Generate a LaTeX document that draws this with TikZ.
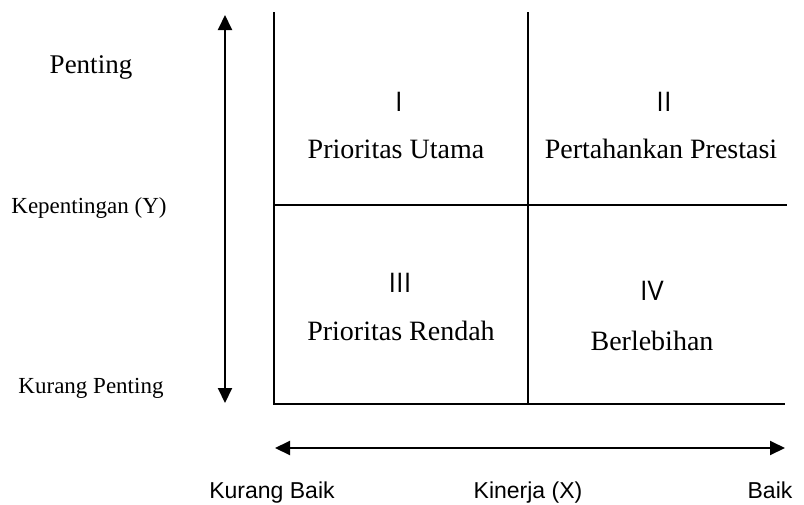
\documentclass[tikz,border=0pt]{standalone}
\usepackage{fontspec}
\setmainfont{Liberation Serif}
\newfontfamily\axisfont{Liberation Sans}
\newfontfamily\quadfont{Open Sans}
\usetikzlibrary{arrows.meta,positioning}
\tikzstyle{quadline} = [draw, line width=1.4pt]
\tikzstyle{axisline} = [draw, line width=2pt, {Triangle[length=15pt,width=14pt]}-{Triangle[length=15pt,width=14pt]}]
\tikzstyle{quadnum}  = [font=\quadfont\fontsize{27}{30}\selectfont, inner sep=0pt]
\tikzstyle{quadtext} = [font=\fontsize{28}{32}\selectfont, inner sep=0pt]
\tikzstyle{ylabel}   = [font=\fontsize{23}{26}\selectfont, inner sep=0pt]
\tikzstyle{xlabel}   = [font=\axisfont\fontsize{23}{26}\selectfont, inner sep=0pt, anchor=base]

\begin{document}
\begin{tikzpicture}[x=1pt,y=-1pt]
    \useasboundingbox (0,0) rectangle (804,504);
    % Box corners
    \coordinate (boxTL) at (274,12);
    \coordinate (boxBL) at (274,404);
    \coordinate (boxBR) at (785,404);
    \coordinate (midTop) at (528,12);
    \coordinate (midBot) at (528,404);
    \coordinate (midL) at (274,205);
    \coordinate (midR) at (787,205);
    % Axis ends
    \coordinate (yTop) at (225,15);
    \coordinate (yBot) at (225,403);
    \coordinate (xLeft) at (275,448);
    \coordinate (xRight) at (785,448);

    % Place nodes
    \node [quadnum]  (numI)   at (399,102) {I};
    \node [quadtext] (textI)  at (396,149) {Prioritas Utama};
    \node [quadnum]  (numII)  at (664,102) {II};
    \node [quadtext] (textII) at (661,149) {Pertahankan Prestasi};
    \node [quadnum]  (numIII) at (400,283) {III};
    \node [quadtext] (textIII) at (401,331) {Prioritas Rendah};
    \node [quadnum]  (numIV)  at (652,291) {IV};
    \node [quadtext] (textIV) at (652,341) {Berlebihan};

    \node [ylabel, font=\fontsize{27}{30}\selectfont] (penting) at (91,67) {Penting};
    \node [ylabel] (kepentingan) at (89,208) {Kepentingan (Y)};
    \node [ylabel] (kurangPenting) at (91,388) {Kurang Penting};

    \node [xlabel] (kurangBaik) at (272,498) {Kurang Baik};
    \node [xlabel] (kinerja) at (528,498) {Kinerja (X)};
    \node [xlabel] (baik) at (770,498) {Baik};

    % Draw lines
    \path [quadline] (boxTL) -- (boxBL) -- (boxBR);
    \path [quadline] (midTop) -- (midBot);
    \path [quadline] (midL) -- (midR);
    \path [axisline] (yTop) -- (yBot);
    \path [axisline] (xLeft) -- (xRight);
\end{tikzpicture}
\end{document}
